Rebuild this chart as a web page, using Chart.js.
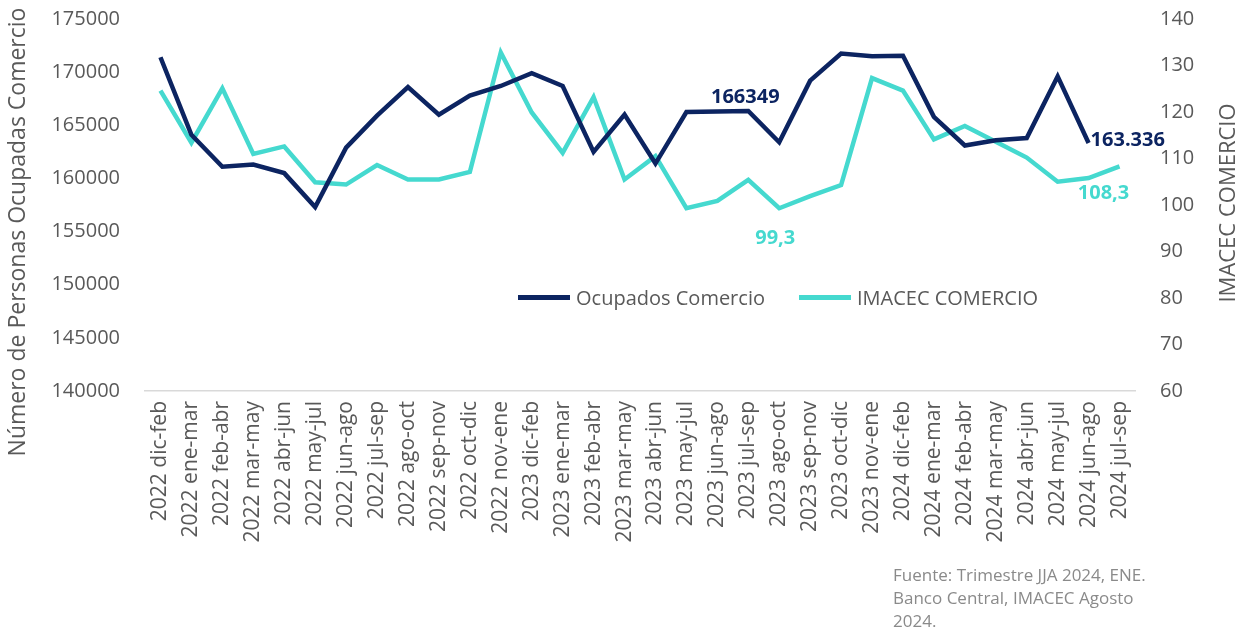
<!DOCTYPE html>
<html>
<head>
<meta charset="utf-8">
<script src="https://cdn.jsdelivr.net/npm/chart.js@4.4.1/dist/chart.umd.min.js"></script>
<style>
  html, body { margin: 0; padding: 0; background: #fff; }
  #wrap { position: relative; width: 1252px; height: 632px; font-family: 'Open Sans', sans-serif; }
  #legend { position: absolute; left: 518px; top: 284px; display: flex; align-items: center; font-size: 20px; color: #595959; }
  #legend .sw { display: inline-block; width: 52px; height: 5px; margin-right: 6px; }
  #legend .item { display: flex; align-items: center; margin-right: 34px; }
  #footer { position: absolute; left: 893px; top: 563px; font-size: 17px; line-height: 23px; color: #8a8a8a; }
</style>
</head>
<body>
<div id="wrap">
  <canvas id="chart" width="1252" height="632"></canvas>
  <div id="legend"></div>
  <div id="footer">Fuente: Trimestre JJA 2024, ENE.<br>Banco Central, IMACEC Agosto<br>2024.</div>
</div>
<script>
// --- data ---
const periods = [
  '2022 dic-feb', '2022 ene-mar', '2022 feb-abr', '2022 mar-may', '2022 abr-jun', '2022 may-jul',
  '2022 jun-ago', '2022 jul-sep', '2022 ago-oct', '2022 sep-nov', '2022 oct-dic', '2022 nov-ene',
  '2023 dic-feb', '2023 ene-mar', '2023 feb-abr', '2023 mar-may', '2023 abr-jun', '2023 may-jul',
  '2023 jun-ago', '2023 jul-sep', '2023 ago-oct', '2023 sep-nov', '2023 oct-dic', '2023 nov-ene',
  '2024 dic-feb', '2024 ene-mar', '2024 feb-abr', '2024 mar-may', '2024 abr-jun', '2024 may-jul',
  '2024 jun-ago', '2024 jul-sep'
];
const ocupados = [
  171400, 164100, 161100, 161300, 160500, 157300, 162900, 165900, 168600, 166000, 167800, 168700,
  169900, 168700, 162500, 166000, 161400, 166250, 166300, 166349, 163400, 169200, 171750, 171500,
  171550, 165800, 163100, 163600, 163800, 169600, 163336, null
];
const imacec = [
  124.6, 113.4, 125.1, 111.0, 112.6, 104.9, 104.4, 108.6, 105.5, 105.5, 107.1, 132.8,
  119.9, 111.2, 123.2, 105.5, 110.5, 99.3, 100.9, 105.4, 99.3, 101.9, 104.3, 127.3,
  124.6, 114.1, 117.0, 113.6, 110.2, 105.0, 105.8, 108.3
];
const leftTicks = { min: 140000, max: 175000, step: 5000 };
const rightTicks = { min: 60, max: 140, step: 10 };
const seriesNames = ['Ocupados Comercio', 'IMACEC COMERCIO'];
// labelled points: [dataset index, point index, text]
const callouts = [
  [0, 19, '166349'],
  [0, 30, '163.336'],
  [1, 20, '99,3'],
  [1, 31, '108,3']
];

const NAVY = '#0c2461';
const TEAL = '#45d9cf';
const INK = '#595959';
const FONT = "'Open Sans', sans-serif";

// legend (html)
const legendEl = document.getElementById('legend');
[[seriesNames[0], NAVY], [seriesNames[1], TEAL]].forEach(([name, col]) => {
  const it = document.createElement('div');
  it.className = 'item';
  it.innerHTML = '<span class="sw" style="background:' + col + '"></span><span>' + name + '</span>';
  legendEl.appendChild(it);
});

// axis titles + point labels
const extras = {
  id: 'extras',
  afterDraw(chart) {
    const ctx = chart.ctx;
    ctx.save();
    ctx.fillStyle = INK;
    ctx.font = '23px ' + FONT;
    ctx.textAlign = 'center';
    ctx.textBaseline = 'middle';
    ctx.translate(18, 232);
    ctx.rotate(-Math.PI / 2);
    ctx.fillText('Número de Personas Ocupadas Comercio', 0, 0);
    ctx.restore();

    ctx.save();
    ctx.fillStyle = INK;
    ctx.font = '22px ' + FONT;
    ctx.textAlign = 'center';
    ctx.textBaseline = 'middle';
    ctx.translate(1229, 203);
    ctx.rotate(-Math.PI / 2);
    ctx.fillText('IMACEC COMERCIO', 0, 0);
    ctx.restore();

    ctx.save();
    ctx.font = 'bold 20px ' + FONT;
    ctx.textBaseline = 'middle';
    callouts.forEach(([ds, i, txt]) => {
      const pt = chart.getDatasetMeta(ds).data[i];
      ctx.fillStyle = ds === 0 ? NAVY : TEAL;
      if (ds === 0 && i === 19) { ctx.textAlign = 'center'; ctx.fillText(txt, pt.x - 3, pt.y - 14); }
      else if (ds === 0) { ctx.textAlign = 'left'; ctx.fillText(txt, pt.x + 2, pt.y - 3); }
      else if (i === 20) { ctx.textAlign = 'center'; ctx.fillText(txt, pt.x - 4, pt.y + 30); }
      else { ctx.textAlign = 'center'; ctx.fillText(txt, pt.x - 16, pt.y + 27); }
    });
    ctx.restore();
  }
};

function fitY(width) {
  return scale => {
    scale.width = width;
    scale.paddingTop = 0;
    scale.paddingBottom = 0;
  };
}

new Chart(document.getElementById('chart'), {
  type: 'line',
  data: {
    labels: periods,
    datasets: [
      {
        label: seriesNames[0],
        data: ocupados,
        yAxisID: 'y',
        borderColor: NAVY,
        borderWidth: 4.5,
        pointRadius: 0,
        tension: 0,
        borderJoinStyle: 'miter',
      },
      {
        label: seriesNames[1],
        data: imacec,
        yAxisID: 'y1',
        borderColor: TEAL,
        borderWidth: 4.5,
        pointRadius: 0,
        tension: 0,
        borderJoinStyle: 'miter',
      },
    ],
  },
  options: {
    responsive: false,
    animation: false,
    layout: { padding: { top: 19, left: 0, right: 0, bottom: 0 } },
    plugins: { legend: { display: false }, tooltip: { enabled: false } },
    scales: {
      x: {
        offset: true,
        grid: { display: false, drawTicks: false },
        border: { display: true, color: '#d9d9d9', width: 1.5 },
        ticks: {
          color: INK, font: { family: FONT, size: 21 },
          minRotation: 90, maxRotation: 90, autoSkip: false, padding: 10,
        },
        afterFit(scale) { scale.height = 241; },
      },
      y: {
        position: 'left',
        min: leftTicks.min, max: leftTicks.max,
        grid: { display: false, drawTicks: false },
        border: { display: false },
        ticks: {
          stepSize: leftTicks.step, color: INK, font: { family: FONT, size: 20 }, padding: 25,
          callback: v => String(v),
        },
        afterFit: fitY(145),
      },
      y1: {
        position: 'right',
        min: rightTicks.min, max: rightTicks.max,
        grid: { display: false, drawTicks: false },
        border: { display: false },
        ticks: { stepSize: rightTicks.step, color: INK, font: { family: FONT, size: 20 }, padding: 25 },
        afterFit: fitY(117),
      },
    },
  },
  plugins: [extras],
});
</script>
</body>
</html>
